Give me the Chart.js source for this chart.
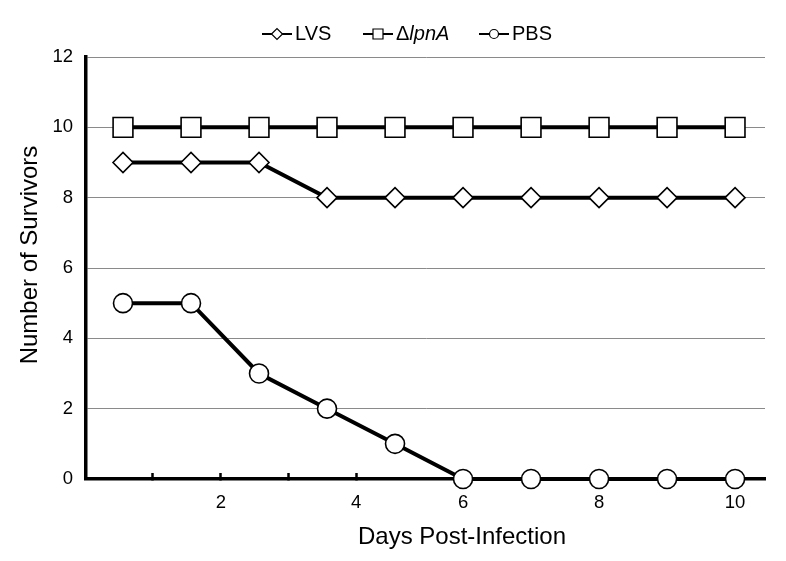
<!DOCTYPE html>
<html>
<head>
<meta charset="utf-8">
<script src="https://cdn.jsdelivr.net/npm/chart.js@4.4.1/dist/chart.umd.min.js"></script>
<style>
  html, body { margin: 0; padding: 0; background: #fff; }
  #wrap { width: 786px; height: 561px; }
</style>
</head>
<body>
<div id="wrap"><canvas id="survivalChart" width="786" height="561"></canvas></div>
<script>
const days = [1, 2, 3, 4, 5, 6, 7, 8, 9, 10];
const lvsSurvivors = [9, 9, 9, 8, 8, 8, 8, 8, 8, 8];
const lpnaSurvivors = [10, 10, 10, 10, 10, 10, 10, 10, 10, 10];
const pbsSurvivors = [5, 5, 3, 2, 1, 0, 0, 0, 0, 0];

// tick marks / labels on the day axis, where the figure puts them
const xTickPositions = [1.44, 2.44, 3.43, 4.43, 6, 8, 10];
const xTickLabels = ['', '2', '', '4', '6', '8', '10'];

const FONT = "'Liberation Sans', Arial, sans-serif";

function toPoints(values) {
  return days.map((d, i) => ({ x: d, y: values[i] }));
}

function seriesStyle(pointStyle, radius) {
  return {
    borderColor: '#000',
    borderWidth: 4,
    pointStyle: pointStyle,
    pointRadius: radius,
    pointHoverRadius: radius,
    pointBackgroundColor: '#fff',
    pointBorderColor: '#000',
    pointBorderWidth: 1.6,
    tension: 0,
    clip: false
  };
}

// legend + axis titles drawn by hand (needs italic in the gene name)
const annotations = {
  id: 'annotations',
  afterDraw(chart) {
    const ctx = chart.ctx;
    ctx.save();
    ctx.fillStyle = '#000';
    ctx.strokeStyle = '#000';

    // axis titles
    ctx.font = '24px ' + FONT;
    ctx.textAlign = 'center';
    ctx.textBaseline = 'middle';
    ctx.fillText('Days Post-Infection', 462, 537);
    ctx.save();
    ctx.translate(30, 255);
    ctx.rotate(-Math.PI / 2);
    ctx.fillText('Number of Survivors', 0, 0);
    ctx.restore();

    // legend
    const y = 34;
    const items = [
      { style: 'rectRot', x: 262, parts: [['LVS', false]] },
      { style: 'rect', x: 363, parts: [['\u0394', false], ['lpnA', true]] },
      { style: 'circle', x: 479, parts: [['PBS', false]] }
    ];
    ctx.textAlign = 'left';
    items.forEach(item => {
      ctx.lineWidth = 2;
      ctx.beginPath();
      ctx.moveTo(item.x, y);
      ctx.lineTo(item.x + 30, y);
      ctx.stroke();
      const cx = item.x + 15;
      ctx.lineWidth = 1.2;
      ctx.fillStyle = '#fff';
      ctx.beginPath();
      if (item.style === 'rectRot') {
        ctx.moveTo(cx - 5.5, y); ctx.lineTo(cx, y - 5.5);
        ctx.lineTo(cx + 5.5, y); ctx.lineTo(cx, y + 5.5);
        ctx.closePath();
      } else if (item.style === 'rect') {
        ctx.rect(cx - 5, y - 5, 10, 10);
      } else {
        ctx.arc(cx, y, 4.5, 0, Math.PI * 2);
      }
      ctx.fill();
      ctx.stroke();
      ctx.fillStyle = '#000';
      let tx = item.x + 33;
      item.parts.forEach(([txt, italic]) => {
        ctx.font = (italic ? 'italic ' : '') + '20px ' + FONT;
        ctx.fillText(txt, tx, y);
        tx += ctx.measureText(txt).width;
      });
    });
    ctx.restore();
  }
};

new Chart(document.getElementById('survivalChart'), {
  type: 'line',
  data: {
    datasets: [
      Object.assign({ label: 'LVS', data: toPoints(lvsSurvivors) }, seriesStyle('rectRot', 10)),
      Object.assign({ label: '\u0394lpnA', data: toPoints(lpnaSurvivors) }, seriesStyle('rect', 14)),
      Object.assign({ label: 'PBS', data: toPoints(pbsSurvivors) }, seriesStyle('circle', 9.5))
    ]
  },
  options: {
    responsive: false,
    devicePixelRatio: 1,
    animation: false,
    layout: { padding: { top: 57, right: 21, left: 0, bottom: 0 } },
    plugins: {
      legend: { display: false },
      tooltip: { enabled: false }
    },
    scales: {
      x: {
        type: 'linear',
        min: 0.456,
        max: 10.44,
        afterBuildTicks: scale => {
          scale.ticks = xTickPositions.map(v => ({ value: v }));
        },
        afterFit: scale => { scale.height = 82; },
        border: { color: '#000', width: 3.5 },
        grid: {
          drawOnChartArea: false,
          drawTicks: true,
          tickLength: -6,
          tickColor: '#000',
          tickWidth: 2.5
        },
        ticks: {
          autoSkip: false,
          maxRotation: 0,
          padding: 19,
          color: '#000',
          font: { family: FONT, size: 18.5 },
          callback: (value, index) => xTickLabels[index]
        }
      },
      y: {
        min: 0,
        max: 12,
        afterFit: scale => { scale.width = 86; },
        border: { color: '#000', width: 3.5 },
        grid: {
          color: ctx => ctx.tick.value === 0 ? 'rgba(0,0,0,0)' : '#8a8a8a',
          lineWidth: 1,
          drawTicks: false
        },
        ticks: {
          stepSize: 2,
          padding: 13,
          color: '#000',
          font: { family: FONT, size: 18.5 }
        }
      }
    }
  },
  plugins: [annotations]
});
</script>
</body>
</html>
